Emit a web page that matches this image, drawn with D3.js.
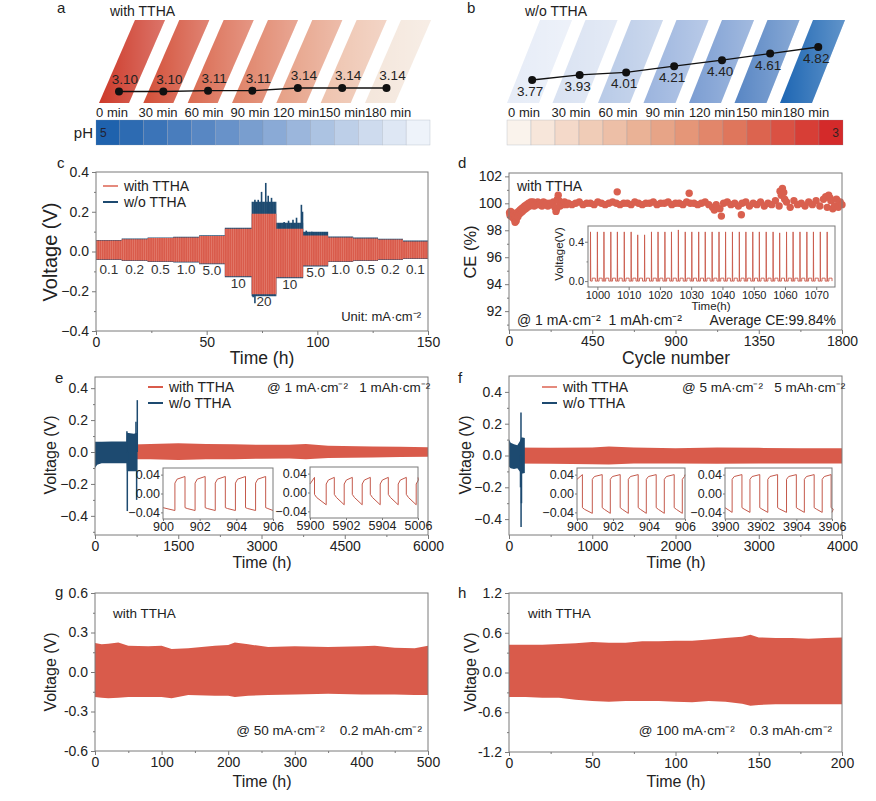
<!DOCTYPE html>
<html>
<head>
<meta charset="utf-8">
<script src="https://cdn.jsdelivr.net/npm/d3@7"></script>
<style>
  body { margin: 0; background: #fff; }
  svg { font-family: "Liberation Sans", Arial, sans-serif; }
  svg text { white-space: pre; }
</style>
</head>
<body>
<div id="fig"></div>
<script>
// ---------- data (a, b) ----------
const times = ["0 min", "30 min", "60 min", "90 min", "120 min", "150 min", "180 min"];
const phWith = [3.10, 3.10, 3.11, 3.11, 3.14, 3.14, 3.14];
const phWithout = [3.77, 3.93, 4.01, 4.21, 4.40, 4.61, 4.82];

// ---------- data (c) : rate steps, envelope of the voltage trace ----------
const cBounds = [0, 11.6, 23.3, 34.9, 46.6, 58.2, 70.3, 81.5, 93.6, 104.9, 116.2, 127.4, 138.7, 150];
const cRates = ["0.1", "0.2", "0.5", "1.0", "5.0", "10", "20", "10", "5.0", "1.0", "0.5", "0.2", "0.1"];
const cWithTop = [0.055, 0.062, 0.068, 0.07, 0.078, 0.115, 0.19, 0.115, 0.08, 0.07, 0.066, 0.06, 0.05];
const cWithBot = [-0.04, -0.045, -0.05, -0.052, -0.06, -0.125, -0.215, -0.13, -0.07, -0.05, -0.045, -0.04, -0.035];
const cWoTop = [0.058, 0.065, 0.071, 0.074, 0.082, 0.12, 0.25, 0.145, 0.1, 0.075, 0.07, 0.064, 0.055];
const cWoBot = [-0.043, -0.048, -0.053, -0.055, -0.064, -0.13, -0.225, -0.135, -0.075, -0.053, -0.048, -0.043, -0.038];
const cWoSpikes = [[71.8, 0.26], [73.3, 0.26], [74.8, 0.3], [76.7, 0.345], [77.8, 0.28], [79.3, 0.27],
  [80.8, 0.21], [83, 0.14], [85, 0.148], [87, 0.155], [89, 0.16], [90.6, 0.17], [92.8, 0.235],
  [93.3, 0.2], [71, -0.23], [71.8, -0.26], [95, 0.105], [97.5, 0.1]];

// ---------- data (d) ----------
const ceData = [[3, 99.3], [6, 99.1], [9, 99.4], [12, 99.2], [15, 99.0], [18, 99.3], [21, 99.1], [24, 98.9],
  [27, 99.2], [30, 98.8], [33, 98.6], [36, 99.0], [39, 98.7], [42, 99.1], [45, 99.3], [48, 99.0], [52, 99.4],
  [56, 99.2], [60, 99.5], [64, 99.3], [68, 99.6], [72, 99.4], [76, 99.7], [80, 99.5], [85, 99.8], [90, 99.6],
  [95, 99.9], [100, 99.7], [106, 100.0], [112, 99.8], [118, 100.1], [124, 99.9], [130, 100.1], [136, 99.8],
  [142, 100.0], [148, 99.9], [155, 100.1], [162, 99.9], [170, 100.0], [178, 99.8], [186, 100.1], [194, 99.9],
  [202, 100.0], [210, 99.8], [220, 100.0], [230, 99.9], [240, 100.1], [248, 99.7], [254, 99.4], [258, 99.6],
  [262, 100.3], [266, 100.6], [270, 100.2], [276, 99.8], [284, 100.0], [292, 99.9], [300, 100.1], [310, 99.9],
  [320, 100.0], [340, 99.9], [360, 100.0], [380, 100.1], [400, 99.9], [420, 100.0], [440, 100.0], [460, 99.9],
  [480, 100.1], [500, 100.0], [520, 99.9], [540, 100.0], [560, 100.1], [580, 100.0], [585, 100.85], [600, 99.9],
  [620, 100.0], [640, 100.0], [660, 99.9], [680, 100.1], [700, 100.0], [720, 99.9], [740, 100.0], [760, 100.0],
  [780, 100.1], [800, 99.9], [820, 100.0], [840, 100.0], [860, 100.1], [880, 99.9], [900, 100.0], [920, 100.0],
  [940, 99.9], [960, 100.1], [974, 100.75], [980, 100.0], [1000, 100.0], [1020, 99.9], [1040, 100.0],
  [1060, 100.1], [1080, 99.9], [1100, 99.7], [1110, 99.5], [1120, 99.9], [1140, 99.6], [1148, 99.05],
  [1160, 100.0], [1180, 100.1], [1200, 99.9], [1220, 100.0], [1240, 99.8], [1256, 99.15], [1260, 100.0],
  [1280, 100.1], [1300, 99.8], [1320, 100.0], [1340, 99.9], [1360, 100.1], [1380, 99.8], [1400, 100.0],
  [1420, 99.9], [1440, 100.2], [1460, 99.8], [1465, 100.9], [1472, 100.6], [1478, 101.1], [1485, 100.8],
  [1490, 100.3], [1500, 100.1], [1520, 99.7], [1540, 100.2], [1560, 99.9], [1580, 100.0], [1600, 99.8],
  [1620, 100.1], [1640, 99.9], [1660, 100.2], [1680, 99.8], [1700, 100.3], [1712, 100.5], [1720, 99.7],
  [1728, 100.6], [1735, 100.4], [1740, 100.2], [1750, 99.6], [1760, 99.8], [1770, 100.3], [1780, 99.7],
  [1790, 100.1], [1800, 99.9]];
const ceSpikeT = [997.8, 1000.0, 1002.1, 1004.3, 1006.4, 1008.6, 1010.8, 1012.9, 1015.1, 1017.3, 1019.4,
  1021.6, 1023.7, 1025.9, 1028.1, 1030.2, 1032.4, 1034.5, 1036.7, 1038.9, 1041.0, 1043.2, 1045.4, 1047.5,
  1049.7, 1051.8, 1054.0, 1056.2, 1058.3, 1060.5, 1062.6, 1064.8, 1067.0, 1069.1, 1071.3, 1073.5];
const ceSpikeV = [0.5, 0.5, 0.5, 0.5, 0.5, 0.5, 0.5, 0.47, 0.47, 0.5, 0.5, 0.5, 0.5, 0.52, 0.5, 0.5,
  0.5, 0.5, 0.5, 0.5, 0.5, 0.5, 0.5, 0.5, 0.5, 0.5, 0.5, 0.5, 0.49, 0.5, 0.5, 0.5, 0.5, 0.5, 0.5, 0.5];

// ---------- data (e) ----------
const eWithT = [0, 500, 1000, 1500, 2000, 2500, 3000, 3500, 3800, 4200, 5000, 5500, 6000];
const eWithTop = [0.045, 0.045, 0.05, 0.055, 0.05, 0.048, 0.045, 0.045, 0.05, 0.04, 0.035, 0.033, 0.03];
const eWithBot = [-0.045, -0.045, -0.045, -0.05, -0.045, -0.045, -0.042, -0.04, -0.045, -0.038, -0.035, -0.032, -0.03];
const eWoT = [0, 40, 120, 300, 570, 575, 700, 762];
const eWoTop = [0.065, 0.065, 0.065, 0.066, 0.066, 0.12, 0.115, 0.12];
const eWoBot = [-0.1, -0.08, -0.07, -0.07, -0.07, -0.12, -0.12, -0.12];
const eWoSpikes = [[575, 0.13], [738, 0.19], [762, 0.325], [582, -0.37], [750, -0.3]];
const eIn1Rise = [900.65, 901.75, 902.85, 903.95, 905.05];
const eIn1Fall = [901.2, 902.3, 903.4, 904.5, 905.6];
const eIn2Rise = [5900.9, 5901.9, 5902.9, 5903.9, 5904.9, 5905.9];
const eIn2Fall = [5900.25, 5901.35, 5902.35, 5903.35, 5904.35, 5905.35];

// ---------- data (f) ----------
const fWithT = [0, 500, 1000, 1200, 1500, 2000, 2500, 3000, 3500, 4000];
const fWithTop = [0.05, 0.048, 0.05, 0.056, 0.05, 0.046, 0.05, 0.048, 0.046, 0.046];
const fWithBot = [-0.05, -0.052, -0.055, -0.056, -0.05, -0.05, -0.052, -0.05, -0.05, -0.05];
const fWoT = [0, 20, 60, 100, 130, 150, 190];
const fWoTop = [0.1, 0.08, 0.07, 0.065, 0.09, 0.115, 0.11];
const fWoBot = [-0.07, -0.08, -0.085, -0.08, -0.1, -0.115, -0.11];
const fWoSpikes = [[144, 0.27], [145, -0.45], [150, -0.3], [138, -0.2]];
const fIn1Rise = [900.85, 901.85, 902.85, 903.85, 904.85, 905.85];
const fIn1Fall = [900.3, 901.4, 902.4, 903.4, 904.4, 905.4];
const fIn2Rise = [3900.4, 3901.4, 3902.4, 3903.45, 3904.45, 3905.45];
const fIn2Fall = [3900.95, 3901.95, 3902.95, 3904.0, 3905.0, 3905.95];

// ---------- data (g, h) ----------
const gT = [0, 10, 20, 35, 50, 80, 100, 115, 140, 180, 200, 210, 230, 260, 300, 350, 400, 420, 450, 480, 500];
const gTop = [0.22, 0.21, 0.215, 0.225, 0.2, 0.195, 0.2, 0.175, 0.18, 0.2, 0.205, 0.225, 0.21, 0.19, 0.195, 0.19, 0.195, 0.2, 0.185, 0.18, 0.2];
const gBot = [-0.19, -0.195, -0.2, -0.195, -0.19, -0.19, -0.19, -0.2, -0.175, -0.18, -0.18, -0.19, -0.18, -0.175, -0.17, -0.165, -0.17, -0.17, -0.17, -0.175, -0.175];
const hT = [0, 10, 20, 30, 40, 50, 60, 70, 80, 90, 100, 110, 120, 130, 140, 145, 150, 160, 170, 180, 190, 200];
const hTop = [0.42, 0.42, 0.42, 0.43, 0.44, 0.46, 0.45, 0.45, 0.47, 0.47, 0.48, 0.48, 0.5, 0.52, 0.54, 0.57, 0.53, 0.52, 0.52, 0.51, 0.52, 0.53];
const hBot = [-0.37, -0.37, -0.38, -0.38, -0.41, -0.43, -0.44, -0.43, -0.43, -0.43, -0.44, -0.45, -0.43, -0.44, -0.47, -0.5, -0.49, -0.48, -0.48, -0.48, -0.48, -0.48];

// ---------- styles ----------
const RED = "#d95b4b", NAVY = "#1d4a70", AXC = "#7a7a7a", TXT = "#222";
const FONT = '"Liberation Sans", Arial, sans-serif';
const paraWith = ["#cd3a2a", "#d34f38", "#da6a50", "#df8166", "#e6a086", "#eec3ae", "#f4e6db"];
const paraWithout = ["#e6ecf7", "#d9e2f2", "#b8cae7", "#9bb4de", "#7b9dd2", "#5886c4", "#1d66b3"];

const svg = d3.select("#fig").append("svg").attr("width", 876).attr("height", 801);
svg.append("rect").attr("width", 876).attr("height", 801).attr("fill", "#fff");
const defs = svg.append("defs");

function stripes(id, bg, fg) {
  const p = defs.append("pattern").attr("id", id).attr("patternUnits", "userSpaceOnUse")
    .attr("width", 2.2).attr("height", 8);
  p.append("rect").attr("width", 2.2).attr("height", 8).attr("fill", bg);
  p.append("rect").attr("width", 0.5).attr("height", 8).attr("fill", fg);
}
stripes("stRed", RED, "#e7897a");
stripes("stNavy", NAVY, "#36607f");

const shine = defs.append("linearGradient").attr("id", "shine");
shine.append("stop").attr("offset", 0).attr("stop-color", "#fff").attr("stop-opacity", 0);
shine.append("stop").attr("offset", 1).attr("stop-color", "#fff").attr("stop-opacity", 0.3);

function txt(x, y, s, o = {}) {
  return svg.append("text").attr("x", x).attr("y", y).text(s)
    .attr("font-size", o.fs || 14).attr("text-anchor", o.anchor || "start")
    .attr("fill", o.fill || TXT);
}
function ytitle(x, y, s, fs) {
  svg.append("text").attr("transform", `translate(${x},${y}) rotate(-90)`)
    .attr("text-anchor", "middle").attr("dy", "0.35em").attr("font-size", fs).attr("fill", TXT).text(s);
}

function axes(x, y, o) {
  const g = svg.append("g");
  const [xa, xb] = x.range(), [yb, ya] = y.range();
  const fs = o.fs || 14, tk = o.tk || 4;
  const put = (axis, tr) => g.append("g").attr("transform", tr).call(axis)
    .call(s => s.select(".domain").remove())
    .call(s => s.selectAll("line").attr("stroke", AXC))
    .call(s => s.selectAll("text").attr("font-size", fs).attr("font-family", FONT).attr("fill", TXT));
  if (o.xMinor) put(d3.axisBottom(x).tickValues(o.xMinor).tickSize(tk / 2).tickFormat(""), `translate(0,${yb})`);
  if (o.yMinor) put(d3.axisLeft(y).tickValues(o.yMinor).tickSize(tk / 2).tickFormat(""), `translate(${xa},0)`);
  put(d3.axisBottom(x).tickValues(o.xTicks).tickSize(tk).tickPadding(o.padX != null ? o.padX : 2).tickFormat(o.xFmt), `translate(0,${yb})`);
  put(d3.axisLeft(y).tickValues(o.yTicks).tickSize(tk).tickPadding(o.pad || 3).tickFormat(o.yFmt), `translate(${xa},0)`);
  g.append("rect").attr("x", xa).attr("y", ya).attr("width", xb - xa).attr("height", yb - ya)
    .attr("fill", "none").attr("stroke", AXC).attr("stroke-width", 1);
}

function band(x, y, T, top, bot, fill, curve) {
  const pts = T.map((t, i) => ({ t, top: top[i], bot: bot[i] }));
  svg.append("path").datum(pts)
    .attr("d", d3.area().curve(curve || d3.curveLinear).x(d => x(d.t)).y0(d => y(d.bot)).y1(d => y(d.top)))
    .attr("fill", fill);
}
function spikes(x, y, data, color, w) {
  svg.append("g").selectAll("line").data(data).join("line")
    .attr("x1", d => x(d[0])).attr("x2", d => x(d[0]))
    .attr("y1", y(0)).attr("y2", d => y(d[1]))
    .attr("stroke", color).attr("stroke-width", w || 1.5);
}
function legend(x, y, color1, color2) {
  [[color1, "with TTHA"], [color2, "w/o TTHA"]].forEach((d, i) => {
    svg.append("line").attr("x1", x).attr("x2", x + 15).attr("y1", y + i * 16).attr("y2", y + i * 16)
      .attr("stroke", d[0]).attr("stroke-width", 2);
    txt(x + 21, y + i * 16 + 5, d[1], { fs: 14 });
  });
}

// square wave with sloped plateaus, from edge times
function squareWave(dom, startHigh, rises, falls, lv) {
  const ev = rises.map(t => ({ t, up: true })).concat(falls.map(t => ({ t, up: false })))
    .filter(e => e.t < dom[1]).sort((a, b) => a.t - b.t);
  const pts = [];
  let high = startHigh;
  pts.push([dom[0], high ? lv.hiS : lv.loS]);
  ev.forEach(e => {
    pts.push([e.t, high ? lv.hiE : lv.loE]);
    high = e.up;
    pts.push([e.t, high ? lv.hiS : lv.loS]);
    pts.push([e.t + 0.12, high ? lv.hiS + (lv.hiE - lv.hiS) * 0.6 : lv.loS + (lv.loE - lv.loS) * 0.3]);
  });
  pts.push([dom[1], high ? lv.hiE : lv.loE]);
  return pts;
}
function inset(box, xDom, yDom, xTicks, xLabels, pts) {
  const x = d3.scaleLinear().domain(xDom).range([box[0], box[1]]);
  const y = d3.scaleLinear().domain(yDom).range([box[3], box[2]]);
  svg.append("rect").attr("x", box[0]).attr("y", box[2]).attr("width", box[1] - box[0])
    .attr("height", box[3] - box[2]).attr("fill", "#fff");
  svg.append("path").datum(pts).attr("d", d3.line().x(d => x(d[0])).y(d => y(d[1])))
    .attr("fill", "none").attr("stroke", "#c4594b").attr("stroke-width", 1);
  axes(x, y, { xTicks, xFmt: (d, i) => xLabels[i], yTicks: [-0.04, 0, 0.04], yFmt: d3.format(".2f"),
    fs: 12.5, tk: 2, pad: 1, padX: 1 });
}

// ---------- panel a ----------
txt(57, 13, "a", { fs: 15 });
txt(110, 16, "with TTHA", { fs: 14 });
function strips(cols, x0, x1, slant, half, vals, ydom, yr, labDx, labDy, labX, cbX, cbCols, cbLabel, cbLabelLeft) {
  const xp = d3.scalePoint().domain(times).range([x0, x1]);
  const yv = d3.scaleLinear().domain(ydom).range(yr);
  const yTop = 20, yBot = 103;
  const cx = (t, yy) => xp(t) + slant * (yBot - yy) / (yBot - yTop);
  times.forEach((t, i) => {
    const poly = [[xp(t) - half, yBot], [xp(t) + half, yBot], [xp(t) + slant + half, yTop], [xp(t) + slant - half, yTop]];
    svg.append("polygon").attr("points", poly.join(" ")).attr("fill", cols[i]);
    svg.append("polygon").attr("points", poly.join(" ")).attr("fill", "url(#shine)");
  });
  const pts = times.map((t, i) => [cx(t, yv(vals[i])), yv(vals[i]), vals[i]]);
  svg.append("path").datum(pts).attr("d", d3.line()).attr("fill", "none").attr("stroke", "#111").attr("stroke-width", 1.3);
  svg.append("g").selectAll("circle").data(pts).join("circle")
    .attr("cx", d => d[0]).attr("cy", d => d[1]).attr("r", 4).attr("fill", "#111");
  svg.append("g").selectAll("text").data(pts).join("text")
    .attr("x", d => d[0] + labDx).attr("y", d => d[1] + labDy).attr("text-anchor", "middle")
    .attr("font-size", 13.5).attr("fill", TXT).text(d => d[2].toFixed(2));
  const xl = d3.scalePoint().domain(times).range(labX);
  svg.append("g").selectAll("text").data(times).join("text")
    .attr("x", d => xl(d)).attr("y", 117).attr("text-anchor", "middle").attr("font-size", 13).attr("fill", TXT).text(d => d);
  const xb = d3.scaleBand().domain(d3.range(14)).range(cbX);
  svg.append("g").selectAll("rect").data(d3.range(14)).join("rect")
    .attr("x", d => xb(d)).attr("y", 120).attr("width", xb.bandwidth()).attr("height", 25)
    .attr("fill", d => cbCols(d / 13)).attr("stroke", "#8a94a8").attr("stroke-width", 0.4).attr("stroke-opacity", 0.6);
  if (cbLabelLeft) txt(cbX[0] + 4, 137, cbLabel, { fs: 12, fill: "#223" });
  else txt(cbX[1] - 4, 137, cbLabel, { fs: 12, fill: "#322", anchor: "end" });
}
strips(paraWith, 114, 380, 36, 15, phWith, [3.10, 3.14], [91.5, 88], 6, -8, [112, 388], [96, 430],
  d3.interpolateRgbBasis(["#1f62ad", "#5a88c4", "#a8bfe1", "#eef3fa"]), "5", true);
txt(93, 138, "pH", { fs: 15, anchor: "end" });

// ---------- panel b ----------
txt(467, 13, "b", { fs: 15 });
txt(525, 16, "w/o TTHA", { fs: 14 });
strips(paraWithout, 523, 796, 33, 16, phWithout, [3.77, 4.82], [80, 47], -2, 16, [524, 806], [507, 843],
  d3.interpolateRgbBasis(["#faf3ec", "#ecbb9f", "#e0805f", "#d42a2a"]), "3", false);

// ---------- panel c ----------
const xC = d3.scaleLinear().domain([0, 150]).range([96, 428]);
const yC = d3.scaleLinear().domain([-0.4, 0.4]).range([331, 172]);
const pad = a => a.concat([a[a.length - 1]]);
band(xC, yC, cBounds, pad(cWoTop), pad(cWoBot), "url(#stNavy)", d3.curveStepAfter);
spikes(xC, yC, cWoSpikes, NAVY, 1.6);
band(xC, yC, cBounds, pad(cWithTop), pad(cWithBot), "url(#stRed)", d3.curveStepAfter);
axes(xC, yC, { xTicks: [0, 50, 100, 150], xMinor: [25, 75, 125], xFmt: d3.format("d"),
  yTicks: [-0.4, -0.2, 0, 0.2, 0.4], yMinor: [-0.3, -0.1, 0.1, 0.3], yFmt: d3.format(".1f") });
cRates.forEach((r, i) => {
  const xm = xC((cBounds[i] + cBounds[i + 1]) / 2);
  const yy = Math.max(yC(cWithBot[i]) + 12, 274);
  txt(xm, yy, r, { fs: 13.5, anchor: "middle", fill: "#333" });
});
legend(103, 186, "#e58a7d", NAVY);
txt(421, 321, "Unit: mA·cm⁻²", { fs: 13, anchor: "end" });
txt(57, 168, "c", { fs: 15 });
ytitle(50, 252, "Voltage (V)", 20);
txt(262, 364, "Time (h)", { fs: 17.5, anchor: "middle" });

// ---------- panel d ----------
const xD = d3.scaleLinear().domain([0, 1800]).range([509, 842]);
const yD = d3.scaleLinear().domain([90.6, 102.25]).range([330, 173]);
svg.append("g").selectAll("circle").data(ceData).join("circle")
  .attr("cx", d => xD(d[0])).attr("cy", d => yD(d[1])).attr("r", 3.7).attr("fill", "#d9604f");
axes(xD, yD, { xTicks: [0, 450, 900, 1350, 1800], xMinor: [225, 675, 1125, 1575], xFmt: d3.format("d"),
  yTicks: [92, 94, 96, 98, 100, 102], yMinor: [91, 93, 95, 97, 99, 101], yFmt: d3.format("d") });
{
  const xi = d3.scaleLinear().domain([997, 1076]).range([588, 835]);
  const yi = d3.scaleLinear().domain([-0.06, 0.56]).range([287, 226]);
  svg.append("rect").attr("x", 588).attr("y", 226).attr("width", 247).attr("height", 61).attr("fill", "#fff");
  const pts = [];
  ceSpikeT.forEach((t, i) => {
    pts.push([t - 0.05, 0.0], [t, ceSpikeV[i]], [t + 0.08, 0.0], [t + 0.55, 0.0], [t + 0.55, 0.03], [t + 1.55, 0.03], [t + 1.55, 0.0]);
  });
  svg.append("path").datum(pts.filter(p => p[0] >= 997 && p[0] <= 1076))
    .attr("d", d3.line().x(d => xi(d[0])).y(d => yi(d[1])))
    .attr("fill", "none").attr("stroke", "#c95a4c").attr("stroke-width", 0.9);
  axes(xi, yi, { xTicks: d3.range(1000, 1071, 10), xFmt: d3.format("d"), yTicks: [0, 0.4], yMinor: [0.2],
    yFmt: d3.format(".1f"), fs: 11, tk: 3, pad: 1, padX: 1 });
  txt(711, 310, "Time(h)", { fs: 11.5, anchor: "middle" });
  ytitle(559, 254, "Voltage(V)", 11.5);
}
txt(517, 191, "with TTHA", { fs: 14 });
txt(517, 325, "@ 1 mA·cm⁻²  1 mAh·cm⁻²", { fs: 14 });
txt(836, 325, "Average CE:99.84%", { fs: 14, anchor: "end" });
txt(458, 168, "d", { fs: 15 });
ytitle(470, 252, "CE (%)", 16.5);
txt(676, 364, "Cycle number", { fs: 17.5, anchor: "middle" });

// ---------- panel e ----------
const xE = d3.scaleLinear().domain([0, 6000]).range([95, 428]);
const yE = d3.scaleLinear().domain([-0.52, 0.47]).range([535, 377]);
band(xE, yE, eWithT, eWithTop, eWithBot, RED);
band(xE, yE, eWoT, eWoTop, eWoBot, NAVY);
spikes(xE, yE, eWoSpikes, NAVY, 1.5);
axes(xE, yE, { xTicks: [0, 1500, 3000, 4500, 6000], xMinor: [750, 2250, 3750, 5250], xFmt: d3.format("d"),
  yTicks: [-0.4, -0.2, 0, 0.2, 0.4], yMinor: [-0.5, -0.3, -0.1, 0.1, 0.3], yFmt: d3.format(".1f") });
inset([163, 273, 468, 519], [900, 906], [-0.054, 0.054], [900, 902, 904, 906], ["900", "902", "904", "906"],
  squareWave([900, 906], false, eIn1Rise, eIn1Fall, { hiS: 0.022, hiE: 0.036, loS: -0.03, loE: -0.036 }));
inset([310, 418, 467, 518], [5900, 5906], [-0.054, 0.054], [5900, 5902, 5904, 5906], ["5900", "5902", "5904", "5006"],
  squareWave([5900, 5906], true, eIn2Rise, eIn2Fall, { hiS: 0.018, hiE: 0.032, loS: -0.004, loE: -0.026 }));
legend(148, 387, RED, NAVY);
txt(267, 392, "@ 1 mA·cm⁻²   1 mAh·cm⁻²", { fs: 13.5 });
txt(55, 383, "e", { fs: 15 });
ytitle(50, 455, "Voltage (V)", 16);
txt(262, 568, "Time (h)", { fs: 16, anchor: "middle" });

// ---------- panel f ----------
const xF = d3.scaleLinear().domain([0, 4000]).range([509, 842]);
const yF = d3.scaleLinear().domain([-0.5, 0.5]).range([535, 376]);
band(xF, yF, fWithT, fWithTop, fWithBot, RED);
band(xF, yF, fWoT, fWoTop, fWoBot, NAVY);
spikes(xF, yF, fWoSpikes, NAVY, 1.5);
axes(xF, yF, { xTicks: [0, 1000, 2000, 3000, 4000], xMinor: [500, 1500, 2500, 3500], xFmt: d3.format("d"),
  yTicks: [-0.4, -0.2, 0, 0.2, 0.4], yMinor: [-0.3, -0.1, 0.1, 0.3], yFmt: d3.format(".1f") });
inset([577, 685, 468, 519], [900, 906], [-0.054, 0.054], [900, 902, 904, 906], ["900", "902", "904", "906"],
  squareWave([900, 906], true, fIn1Rise, fIn1Fall, { hiS: 0.03, hiE: 0.04, loS: -0.03, loE: -0.042 }));
inset([725, 832, 468, 519], [3900, 3906], [-0.054, 0.054], [3900, 3902, 3904, 3906], ["3900", "3902", "3904", "3906"],
  squareWave([3900, 3906], false, fIn2Rise, fIn2Fall, { hiS: 0.03, hiE: 0.04, loS: -0.03, loE: -0.04 }));
legend(542, 387, "#e58a7d", NAVY);
txt(682, 392, "@ 5 mA·cm⁻²   5 mAh·cm⁻²", { fs: 13.5 });
txt(458, 383, "f", { fs: 15 });
ytitle(465, 455, "Voltage (V)", 16);
txt(676, 568, "Time (h)", { fs: 16, anchor: "middle" });

// ---------- panel g ----------
const xG = d3.scaleLinear().domain([0, 500]).range([95, 428]);
const yG = d3.scaleLinear().domain([-0.6, 0.6]).range([751, 593]);
band(xG, yG, gT, gTop, gBot, RED);
axes(xG, yG, { xTicks: [0, 100, 200, 300, 400, 500], xMinor: [50, 150, 250, 350, 450], xFmt: d3.format("d"),
  yTicks: [-0.6, -0.3, 0, 0.3, 0.6], yMinor: [-0.45, -0.15, 0.15, 0.45], yFmt: d => d.toFixed(1) });
txt(113, 618, "with TTHA", { fs: 13.5 });
txt(422, 735, "@ 50 mA·cm⁻²    0.2 mAh·cm⁻²", { fs: 13.5, anchor: "end" });
txt(55, 597, "g", { fs: 15 });
ytitle(50, 672, "Voltage (V)", 16);
txt(262, 787, "Time (h)", { fs: 16, anchor: "middle" });

// ---------- panel h ----------
const xH = d3.scaleLinear().domain([0, 200]).range([509, 842]);
const yH = d3.scaleLinear().domain([-1.2, 1.2]).range([752, 593]);
band(xH, yH, hT, hTop, hBot, RED);
axes(xH, yH, { xTicks: [0, 50, 100, 150, 200], xMinor: [25, 75, 125, 175], xFmt: d3.format("d"),
  yTicks: [-1.2, -0.6, 0, 0.6, 1.2], yMinor: [-0.9, -0.3, 0.3, 0.9], yFmt: d => d.toFixed(1) });
txt(528, 618, "with TTHA", { fs: 13.5 });
txt(832, 735, "@ 100 mA·cm⁻²    0.3 mAh·cm⁻²", { fs: 13.5, anchor: "end" });
txt(458, 598, "h", { fs: 15 });
ytitle(470, 672, "Voltage (V)", 16);
txt(676, 787, "Time (h)", { fs: 16, anchor: "middle" });
</script>
</body>
</html>
